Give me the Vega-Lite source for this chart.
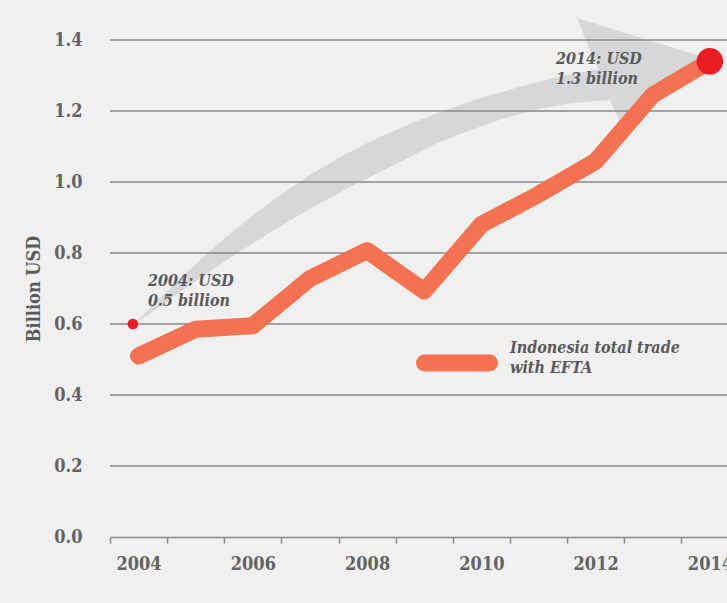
{
  "$schema": "https://vega.github.io/schema/vega-lite/v6.json",
  "width": 617,
  "height": 497,
  "autosize": {"type": "none"},
  "padding": {"left": 110, "top": 40, "right": 0, "bottom": 66},
  "background": "#f0f0f0",
  "config": {
    "view": {"stroke": null},
    "font": "DejaVu Serif Condensed, DejaVu Serif, serif",
    "axisX": {
      "title": null,
      "grid": false,
      "labelOffset": 28.6,
      "labelFlush": false,
      "labelOverlap": false,
      "labelBound": false,
      "tickSize": 6,
      "tickColor": "#8a8a8a",
      "tickWidth": 1.5,
      "domainColor": "#8a8a8a",
      "domainWidth": 1.5,
      "labelFontSize": 18,
      "labelFontWeight": "bold",
      "labelColor": "#636363",
      "labelPadding": 12
    },
    "axisY": {
      "grid": false,
      "domain": false,
      "ticks": false,
      "labelPadding": 28,
      "labelFontSize": 18,
      "labelFontWeight": "bold",
      "labelColor": "#636363",
      "titleFontSize": 18,
      "titleFontWeight": "bold",
      "titleColor": "#5a5a5a",
      "titlePadding": 10
    }
  },
  "datasets": {
    "trade": [
      {"year": 2004, "value": 0.51, "series": "Indonesia total trade with EFTA"},
      {"year": 2005, "value": 0.585, "series": "Indonesia total trade with EFTA"},
      {"year": 2006, "value": 0.595, "series": "Indonesia total trade with EFTA"},
      {"year": 2007, "value": 0.728, "series": "Indonesia total trade with EFTA"},
      {"year": 2008, "value": 0.807, "series": "Indonesia total trade with EFTA"},
      {"year": 2009, "value": 0.693, "series": "Indonesia total trade with EFTA"},
      {"year": 2010, "value": 0.88, "series": "Indonesia total trade with EFTA"},
      {"year": 2011, "value": 0.965, "series": "Indonesia total trade with EFTA"},
      {"year": 2012, "value": 1.058, "series": "Indonesia total trade with EFTA"},
      {"year": 2013, "value": 1.245, "series": "Indonesia total trade with EFTA"},
      {"year": 2014, "value": 1.34, "series": "Indonesia total trade with EFTA"}
    ],
    "arrow": [
      {"i": 0, "year": 2003.903, "value": 0.597},
      {"i": 1, "year": 2004.375, "value": 0.673},
      {"i": 2, "year": 2004.9, "value": 0.754},
      {"i": 3, "year": 2005.425, "value": 0.83},
      {"i": 4, "year": 2005.951, "value": 0.9},
      {"i": 5, "year": 2006.476, "value": 0.963},
      {"i": 6, "year": 2007.001, "value": 1.02},
      {"i": 7, "year": 2007.526, "value": 1.07},
      {"i": 8, "year": 2008.051, "value": 1.114},
      {"i": 9, "year": 2008.576, "value": 1.152},
      {"i": 10, "year": 2009.276, "value": 1.197},
      {"i": 11, "year": 2009.976, "value": 1.236},
      {"i": 12, "year": 2010.677, "value": 1.268},
      {"i": 13, "year": 2011.377, "value": 1.297},
      {"i": 14, "year": 2012.042, "value": 1.317},
      {"i": 15, "year": 2011.674, "value": 1.462},
      {"i": 16, "year": 2014.107, "value": 1.341},
      {"i": 17, "year": 2012.445, "value": 1.163},
      {"i": 18, "year": 2012.252, "value": 1.232},
      {"i": 19, "year": 2011.552, "value": 1.221},
      {"i": 20, "year": 2011.027, "value": 1.206},
      {"i": 21, "year": 2010.379, "value": 1.179},
      {"i": 22, "year": 2009.801, "value": 1.145},
      {"i": 23, "year": 2009.224, "value": 1.11},
      {"i": 24, "year": 2008.401, "value": 1.042},
      {"i": 25, "year": 2007.701, "value": 0.986},
      {"i": 26, "year": 2007.001, "value": 0.925},
      {"i": 27, "year": 2006.301, "value": 0.858},
      {"i": 28, "year": 2005.6, "value": 0.786},
      {"i": 29, "year": 2004.9, "value": 0.71},
      {"i": 30, "year": 2004.375, "value": 0.65}
    ],
    "grid": [
      {"value": 0.2}, {"value": 0.4}, {"value": 0.6}, {"value": 0.8},
      {"value": 1.0}, {"value": 1.2}, {"value": 1.4}
    ],
    "markers": [
      {"year": 2003.9, "value": 0.6, "kind": "start"},
      {"year": 2014, "value": 1.34, "kind": "end"}
    ],
    "notes": [
      {"year": 2004.165, "value": 0.721, "label": "2004: USD\n0.5 billion"},
      {"year": 2011.307, "value": 1.346, "label": "2014: USD\n1.3 billion"}
    ]
  },
  "layer": [
    {
      "data": {"name": "arrow"},
      "mark": {"type": "line", "filled": true, "color": "#d6d7d9", "strokeWidth": 0},
      "encoding": {
        "x": {
          "field": "year", "type": "quantitative",
          "scale": {"domain": [2003.5, 2014.3], "nice": false, "zero": false},
          "axis": {
            "title": null,
            "values": [2003.5, 2004.5, 2005.5, 2006.5, 2007.5, 2008.5, 2009.5, 2010.5, 2011.5, 2012.5, 2013.5],
            "labelExpr": "(datum.value - 1.5) % 2 == 0 ? format(datum.value + 0.5, 'd') : ''"
          }
        },
        "y": {
          "field": "value", "type": "quantitative",
          "scale": {"domain": [0, 1.4], "nice": false},
          "axis": {"title": "Billion USD", "values": [0, 0.2, 0.4, 0.6, 0.8, 1.0, 1.2, 1.4], "format": ".1f"}
        },
        "order": {"field": "i", "type": "quantitative"}
      }
    },
    {
      "data": {"name": "grid"},
      "mark": {"type": "rule", "color": "#8a8a8a", "strokeWidth": 1.5},
      "encoding": {
        "y": {
          "field": "value", "type": "quantitative",
          "axis": {"title": "Billion USD", "values": [0, 0.2, 0.4, 0.6, 0.8, 1.0, 1.2, 1.4], "format": ".1f"}
        }
      }
    },
    {
      "data": {"name": "trade"},
      "mark": {"type": "line", "strokeWidth": 17, "strokeCap": "round", "strokeJoin": "round"},
      "encoding": {
        "x": {
          "field": "year", "type": "quantitative",
          "axis": {
            "title": null,
            "values": [2003.5, 2004.5, 2005.5, 2006.5, 2007.5, 2008.5, 2009.5, 2010.5, 2011.5, 2012.5, 2013.5],
            "labelExpr": "(datum.value - 1.5) % 2 == 0 ? format(datum.value + 0.5, 'd') : ''"
          }
        },
        "y": {
          "field": "value", "type": "quantitative",
          "axis": {"title": "Billion USD", "values": [0, 0.2, 0.4, 0.6, 0.8, 1.0, 1.2, 1.4], "format": ".1f"}
        },
        "color": {
          "field": "series",
          "type": "nominal",
          "scale": {"range": ["#f37252"]},
          "legend": {
            "title": null,
            "orient": "none",
            "legendX": 306,
            "legendY": 282,
            "symbolType": "stroke",
            "symbolStrokeWidth": 17,
            "symbolSize": 4225,
            "labelExpr": "['Indonesia total trade', 'with EFTA']",
            "labelFontSize": 16,
            "labelFontStyle": "italic",
            "labelFontWeight": "bold",
            "labelColor": "#5a5a5a",
            "labelOffset": 12,
            "labelLimit": 400,
            "encode": {
              "symbols": {"update": {"strokeCap": {"value": "round"}}},
              "labels": {"update": {"dy": {"value": -15}, "lineHeight": {"value": 20}}}
            }
          }
        }
      }
    },
    {
      "data": {"name": "markers"},
      "transform": [{"filter": "datum.kind == 'start'"}],
      "mark": {"type": "circle", "color": "#ec1c24", "opacity": 1, "size": 113},
      "encoding": {
        "x": {
          "field": "year", "type": "quantitative",
          "axis": {
            "title": null,
            "values": [2003.5, 2004.5, 2005.5, 2006.5, 2007.5, 2008.5, 2009.5, 2010.5, 2011.5, 2012.5, 2013.5],
            "labelExpr": "(datum.value - 1.5) % 2 == 0 ? format(datum.value + 0.5, 'd') : ''"
          }
        },
        "y": {
          "field": "value", "type": "quantitative",
          "axis": {"title": "Billion USD", "values": [0, 0.2, 0.4, 0.6, 0.8, 1.0, 1.2, 1.4], "format": ".1f"}
        }
      }
    },
    {
      "data": {"name": "markers"},
      "transform": [{"filter": "datum.kind == 'end'"}],
      "mark": {"type": "circle", "color": "#ec1c24", "opacity": 1, "size": 700},
      "encoding": {
        "x": {
          "field": "year", "type": "quantitative",
          "axis": {
            "title": null,
            "values": [2003.5, 2004.5, 2005.5, 2006.5, 2007.5, 2008.5, 2009.5, 2010.5, 2011.5, 2012.5, 2013.5],
            "labelExpr": "(datum.value - 1.5) % 2 == 0 ? format(datum.value + 0.5, 'd') : ''"
          }
        },
        "y": {
          "field": "value", "type": "quantitative",
          "axis": {"title": "Billion USD", "values": [0, 0.2, 0.4, 0.6, 0.8, 1.0, 1.2, 1.4], "format": ".1f"}
        }
      }
    },
    {
      "data": {"name": "notes"},
      "mark": {
        "type": "text",
        "align": "left",
        "baseline": "middle",
        "lineBreak": "\n",
        "lineHeight": 20,
        "fontSize": 16,
        "fontStyle": "italic",
        "fontWeight": "bold",
        "color": "#5a5a5a"
      },
      "encoding": {
        "x": {
          "field": "year", "type": "quantitative",
          "axis": {
            "title": null,
            "values": [2003.5, 2004.5, 2005.5, 2006.5, 2007.5, 2008.5, 2009.5, 2010.5, 2011.5, 2012.5, 2013.5],
            "labelExpr": "(datum.value - 1.5) % 2 == 0 ? format(datum.value + 0.5, 'd') : ''"
          }
        },
        "y": {
          "field": "value", "type": "quantitative",
          "axis": {"title": "Billion USD", "values": [0, 0.2, 0.4, 0.6, 0.8, 1.0, 1.2, 1.4], "format": ".1f"}
        },
        "text": {"field": "label"}
      }
    }
  ]
}
